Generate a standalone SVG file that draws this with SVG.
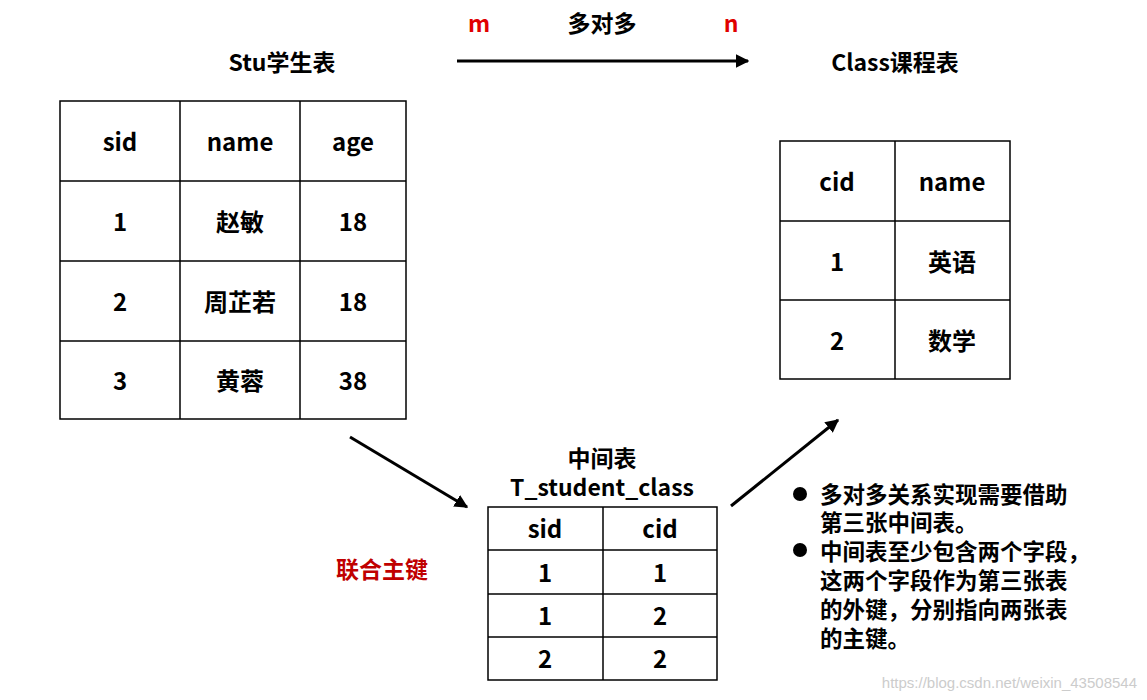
<svg xmlns="http://www.w3.org/2000/svg" width="1147" height="700" viewBox="0 0 1147 700">
<defs>
<style>
text{font-family:"Noto Sans CJK SC","Noto Sans",sans-serif;font-weight:bold;fill:#000}
.c{text-anchor:middle;dominant-baseline:central;font-size:24px}
.t{text-anchor:middle;dominant-baseline:central;font-size:23px}
.b{font-size:22.5px;dominant-baseline:central}
.red{fill:#e00000}
rect,line.g{fill:#fff;stroke:#000;stroke-width:1.5}
.a{stroke:#000;stroke-width:3;marker-end:url(#ah)}
</style>
<marker id="ah" viewBox="0 0 10 10" refX="9" refY="5" markerWidth="4.5" markerHeight="4.5" orient="auto"><path d="M0,0L10,5L0,10z" fill="#000"/></marker>
</defs>
<rect x="0" y="0" width="1147" height="700" style="stroke:none"/>
<g id="labels">
<text class="t red" x="479" y="22">m</text>
<text class="t" x="602" y="22">多对多</text>
<text class="t red" x="731" y="22">n</text>
<text class="t" x="282" y="61">Stu学生表</text>
<text class="t" x="895" y="61">Class课程表</text>
<text class="t" style="fill:#c00000" x="382" y="568">联合主键</text>
</g>
<g id="stu">
<rect x="60" y="101" width="346" height="318"/>
<line class="g" x1="180" y1="101" x2="180" y2="419"/><line class="g" x1="300" y1="101" x2="300" y2="419"/>
<line class="g" x1="60" y1="181" x2="406" y2="181"/><line class="g" x1="60" y1="261" x2="406" y2="261"/><line class="g" x1="60" y1="341" x2="406" y2="341"/>
<text class="c" x="120" y="140">sid</text><text class="c" x="240" y="140">name</text><text class="c" x="353" y="140">age</text>
<text class="c" x="120" y="220">1</text><text class="c" x="240" y="220">赵敏</text><text class="c" x="353" y="220">18</text>
<text class="c" x="120" y="300">2</text><text class="c" x="240" y="300">周芷若</text><text class="c" x="353" y="300">18</text>
<text class="c" x="120" y="379">3</text><text class="c" x="240" y="379">黄蓉</text><text class="c" x="353" y="379">38</text>
</g>
<g id="class">
<rect x="780" y="141" width="230" height="238"/>
<line class="g" x1="895" y1="141" x2="895" y2="379"/>
<line class="g" x1="780" y1="221" x2="1010" y2="221"/><line class="g" x1="780" y1="300" x2="1010" y2="300"/>
<text class="c" x="837" y="180">cid</text><text class="c" x="952" y="180">name</text>
<text class="c" x="837" y="260">1</text><text class="c" x="952" y="260">英语</text>
<text class="c" x="837" y="339">2</text><text class="c" x="952" y="339">数学</text>
</g>
<g id="middle">
<text class="t" x="602" y="457">中间表</text>
<text class="t" x="602" y="486">T_student_class</text>
<rect x="488" y="507" width="229" height="173"/>
<line class="g" x1="603" y1="507" x2="603" y2="680"/>
<line class="g" x1="488" y1="550" x2="717" y2="550"/><line class="g" x1="488" y1="594" x2="717" y2="594"/><line class="g" x1="488" y1="637" x2="717" y2="637"/>
<text class="c" x="545" y="527">sid</text><text class="c" x="660" y="527">cid</text>
<text class="c" x="545" y="571">1</text><text class="c" x="660" y="571">1</text>
<text class="c" x="545" y="614">1</text><text class="c" x="660" y="614">2</text>
<text class="c" x="545" y="657">2</text><text class="c" x="660" y="657">2</text>
</g>
<g id="note">
<circle cx="800" cy="494" r="7"/><circle cx="800" cy="550" r="7"/>
<text class="b" x="820" y="493">多对多关系实现需要借助</text>
<text class="b" x="820" y="521">第三张中间表。</text>
<text class="b" x="820" y="550">中间表至少包含两个字段，</text>
<text class="b" x="820" y="579">这两个字段作为第三张表</text>
<text class="b" x="820" y="608">的外键，分别指向两张表</text>
<text class="b" x="820" y="637">的主键。</text>
</g>
<g id="connectors">
<line class="a" x1="457" y1="61" x2="748" y2="61"/>
<line class="a" x1="350" y1="437" x2="467" y2="507"/>
<line class="a" x1="731" y1="506" x2="838" y2="420"/>
</g>
<text x="1137" y="688" style="font-family:'Liberation Sans',sans-serif;font-weight:normal;font-size:15px;fill:#ccc;text-anchor:end">https://blog.csdn.net/weixin_43508544</text>
</svg>
